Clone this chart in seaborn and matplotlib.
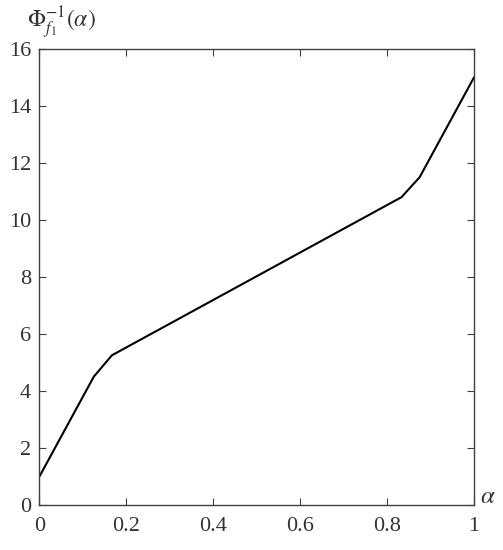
import numpy as np
import pandas as pd
import matplotlib
matplotlib.use("Agg")
import matplotlib.pyplot as plt
import seaborn as sns

# breakpoints of the piecewise-linear inverse function
alpha = [0.0, 0.125, 0.1667, 0.8333, 0.875, 1.0]
phi_inv = [1.0, 4.5, 5.25, 10.8, 11.5, 15.0]

xticks = [0, 0.2, 0.4, 0.6, 0.8, 1]
xticklabels = ["0", "0.2", "0.4", "0.6", "0.8", "1"]
yticks = [0, 2, 4, 6, 8, 10, 12, 14, 16]

sns.set_style("ticks")
plt.rcParams['font.family'] = ['Liberation Serif', 'DejaVu Serif']
plt.rcParams['mathtext.fontset'] = 'stix'

df = pd.DataFrame({'alpha': alpha, 'phi': phi_inv})

fig = plt.figure(figsize=(5.03, 5.5), dpi=100)
ax = fig.add_axes([0.0785, 0.082, 0.8638, 0.829])
sns.lineplot(data=df, x='alpha', y='phi', color='black', linewidth=1.5, ax=ax)

ax.set_xlim(0, 1)
ax.set_ylim(0, 16)
ax.set_xticks(xticks)
ax.set_xticklabels(xticklabels)
ax.set_yticks(yticks)
ax.set_xlabel('')
ax.set_ylabel('')

gray = '#404040'
for s in ax.spines.values():
    s.set_visible(True)
    s.set_color(gray)
    s.set_linewidth(1.0)
ax.tick_params(direction='in', length=5, width=0.8, colors=gray, labelsize=16,
               top=True, right=True, labelcolor='#333333')
ax.tick_params(axis='x', pad=9)
ax.tick_params(axis='y', pad=6)

ax.text(1.013, 0.018, r'$\alpha$', transform=ax.transAxes, fontsize=18,
        color='#333333', ha='left', va='center')
ax.text(-0.029, 1.046, r'$\Phi_{f_1}^{-1}(\alpha)$', transform=ax.transAxes,
        fontsize=17, color='#333333', ha='left', va='baseline')

fig.savefig('out.png', dpi=100)
